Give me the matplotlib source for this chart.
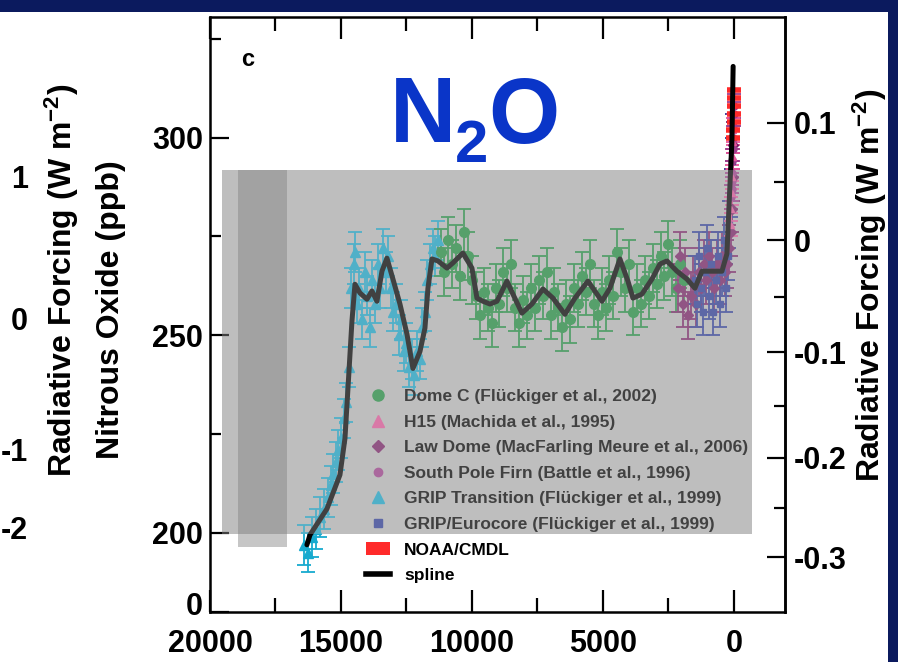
import numpy as np
import matplotlib
matplotlib.use('Agg')
import matplotlib.pyplot as plt
import matplotlib.transforms as mtransforms
from matplotlib.lines import Line2D
from matplotlib.patches import Rectangle, Patch

plt.rcParams['font.family'] = ['Liberation Sans', 'DejaVu Sans']
plt.rcParams['font.weight'] = 'bold'
plt.rcParams['mathtext.fontset'] = 'custom'
plt.rcParams['mathtext.rm'] = 'Liberation Sans:bold'
plt.rcParams['mathtext.bf'] = 'Liberation Sans:bold'
plt.rcParams['mathtext.default'] = 'rm'

# ---- data (years before present, N2O in ppb) ----
grip_tr_years = [16400, 16250, 16100, 15950, 15800, 15650, 15500, 15400, 15300, 15200,
                 15100, 15000, 14900, 14800, 14700, 14600, 14500, 14450, 14400, 14300,
                 14200, 14100, 14000, 13900, 13800, 13700, 13600, 13500, 13400, 13300,
                 13200, 13100, 13000, 12900, 12800, 12700, 12600, 12500, 12400, 12300,
                 12200, 12100, 12000, 11900, 11800, 11700, 11600, 11500, 11400, 11300]
grip_tr_ppb = [197, 195, 199, 201, 204, 206, 209, 212, 215, 218,
               221, 224, 229, 233, 242, 262, 268, 271, 258, 262,
               254, 266, 260, 252, 264, 258, 268, 262, 272, 266,
               270, 262, 256, 258, 250, 254, 246, 248, 242, 244,
               240, 246, 244, 252, 256, 264, 268, 272, 270, 274]

dome_c_years = [11200, 11050, 10900, 10750, 10600, 10450, 10300, 10150, 10000, 9850,
                9700, 9550, 9400, 9250, 9100, 8950, 8800, 8650, 8500, 8350,
                8200, 8050, 7900, 7750, 7600, 7450, 7300, 7150, 7000, 6850,
                6700, 6550, 6400, 6250, 6100, 5950, 5800, 5650, 5500, 5350,
                5200, 5050, 4900, 4750, 4600, 4450, 4300, 4150, 4000, 3850,
                3700, 3550, 3400, 3250, 3100, 2950, 2800, 2650, 2500, 2350,
                2200, 2050, 1900]
dome_c_ppb = [271, 266, 274, 268, 272, 265, 276, 270, 264, 260,
              255, 261, 257, 253, 262, 258, 266, 262, 268, 257,
              253, 259, 255, 262, 257, 264, 260, 266, 255, 261,
              257, 252, 258, 254, 262, 258, 265, 261, 268, 258,
              255, 261, 257, 264, 260, 271, 266, 262, 268, 256,
              262, 258, 264, 260, 267, 263, 270, 265, 273, 266,
              262, 268, 264]

law_dome_years = [2150, 2050, 1950, 1850, 1750, 1650, 1550, 1450, 1350, 1250,
                  1150, 1050, 950, 850, 750, 650, 550, 450, 350, 250,
                  180, 120, 80, 50, 30]
law_dome_ppb = [262, 270, 258, 266, 255, 260, 264, 258, 266, 262,
                268, 264, 270, 266, 262, 268, 264, 270, 266, 268,
                272, 276, 282, 290, 298]

eurocore_years = [1500, 1420, 1340, 1260, 1180, 1100, 1020, 940, 860, 780,
                  700, 620, 540, 460, 380, 300, 240, 180, 130, 90, 60]
eurocore_ppb = [264, 258, 270, 262, 256, 266, 272, 260, 268, 256,
                264, 270, 258, 266, 274, 262, 270, 278, 286, 294, 300]

south_pole_years = [95, 85, 75, 65, 55, 45, 35, 25, 15, 10]
south_pole_ppb = [285, 287, 289, 291, 294, 297, 300, 303, 306, 308]

h15_years = [120, 100, 80, 60, 40, 30, 20]
h15_ppb = [278, 282, 286, 290, 295, 299, 302]

noaa_years = [20, 16, 12, 8, 4, 0, -4]
noaa_ppb = [300, 302, 304, 306, 308, 310, 312]

spline_years = [16300, 16184, 15535, 15039, 14848, 14734, 14581, 14466, 14276, 14008,
                13818, 13627, 13436, 13245, 13016, 12749, 12482, 12253, 11985, 11795,
                11680, 11527, 11298, 10955, 10726, 10344, 10001, 9810, 9581, 9313,
                9046, 8665, 8436, 8092, 7710, 7290, 6909, 6451, 6069, 5573,
                5038, 4733, 4351, 4046, 3855, 3512, 3130, 2825, 2557, 2176,
                1794, 1489, 1221, 916, 458, 267, 191, 76, 50, 30]
spline_ppb = [197.0, 199.5, 206.1, 214.7, 223.9, 236.5, 253.6, 262.9, 260.7, 259.1,
              261.2, 258.6, 266.2, 269.5, 264.2, 257.9, 250.3, 241.6, 245.9, 251.8,
              261.9, 269.3, 268.8, 267.0, 268.3, 270.8, 267.0, 259.4, 258.6, 257.9,
              258.6, 263.7, 260.4, 255.6, 257.9, 261.7, 259.4, 255.3, 259.4, 263.7,
              258.6, 261.9, 269.3, 263.7, 259.4, 260.4, 264.2, 268.0, 268.8, 266.2,
              264.2, 261.9, 266.2, 266.2, 266.2, 270.6, 282.2, 299.2, 310.0, 318.0]

band_years = (17060, 18930)
band_ppb_low = 196.5

x_ticks = [20000, 15000, 10000, 5000, 0]
y_ticks = [180, 200, 250, 300]
y_labels = ['0', '200', '250', '300']
rf_ticks = [-0.3, -0.2, -0.1, 0.0, 0.1]
rf_labels = ['-0.3', '-0.2', '-0.1', '0', '0.1']
left_rf_labels = ['1', '0', '-1', '-2']

legend_labels = ['Dome C (Flückiger et al., 2002)', 'H15 (Machida et al., 1995)',
                 'Law Dome (MacFarling Meure et al., 2006)',
                 'South Pole Firn (Battle et al., 1996)',
                 'GRIP Transition (Flückiger et al., 1999)',
                 'GRIP/Eurocore (Flückiger et al., 1999)', 'NOAA/CMDL', 'spline']

# colours
navy = '#0b1a5e'
green = '#1f9140'
pink = '#e8559c'
purple = '#7a1e66'
violet = '#a03c8c'
cyan = '#17aacf'
blue = '#2a3a9a'
red = '#ff2a2a'

W, H = 898, 662


def fx(px):
    return px / W


def fy(py):
    return 1 - py / H


def n2o_to_rf(n):
    return 0.114 * (np.sqrt(np.clip(n, 1, None)) - np.sqrt(274.0))


def rf_to_n2o(rf):
    return (np.asarray(rf) / 0.114 + np.sqrt(274.0)) ** 2


fig = plt.figure(figsize=(W / 100, H / 100), dpi=100)
fig.patch.set_facecolor('white')
ax = fig.add_axes([fx(210), fy(612), fx(785) - fx(210), fy(17) - fy(612)])
ax.set_facecolor('none')

# gray panel underneath the data
rect = dict(xy=(fx(222), fy(534)), width=fx(752) - fx(222), height=fy(170) - fy(534))
ax.add_patch(Rectangle(transform=fig.transFigure, facecolor='#bfbfbf', edgecolor='none',
                       zorder=0.5, clip_on=False, **rect))
blend = mtransforms.blended_transform_factory(ax.transData, fig.transFigure)
ax.fill_between(band_years, band_ppb_low, 200, color='#c6c6c6', lw=0, zorder=0.6)
ax.add_patch(Rectangle((band_years[0], fy(534)), band_years[1] - band_years[0],
                       fy(170) - fy(534), transform=blend, facecolor='#949494',
                       edgecolor='none', zorder=0.7, clip_on=False))

eb = dict(ls='none', capsize=5, elinewidth=1.3, capthick=1.3, zorder=2)
ax.errorbar(grip_tr_years, grip_tr_ppb, yerr=5, fmt='^', ms=7, color=cyan, **eb)
ax.errorbar(dome_c_years, dome_c_ppb, yerr=6, fmt='o', ms=7, color=green, **eb)
ax.errorbar(law_dome_years, law_dome_ppb, yerr=6, fmt='D', ms=5, color=purple, **eb)
ax.errorbar(eurocore_years, eurocore_ppb, yerr=6, fmt='s', ms=5, color=blue, **eb)
ax.errorbar(south_pole_years, south_pole_ppb, yerr=3, fmt='o', ms=5, color=violet, **eb)
ax.errorbar(h15_years, h15_ppb, yerr=3, fmt='^', ms=5, color=pink, **eb)
ax.plot(noaa_years, noaa_ppb, ls='none', marker='_', ms=10, mew=4, color=red, zorder=3)
ax.plot(spline_years, spline_ppb, color='black', lw=3.6, zorder=4,
        solid_joinstyle='round', solid_capstyle='round')

ax.set_xlim(20000, -1950)
ax.set_ylim(180, 330.5)
ax.set_xticks(x_ticks, [str(t) for t in x_ticks])
ax.set_xticks([17500, 12500, 7500, 2500], minor=True)
ax.set_yticks(y_ticks, y_labels)
ax.set_yticks([225, 275, 325], minor=True)
ax.tick_params(axis='x', which='major', direction='in', top=True, length=16, width=1.6,
               labelsize=22, pad=12)
ax.tick_params(axis='x', which='minor', direction='in', top=True, length=10, width=1.6)
ax.tick_params(axis='y', which='major', direction='in', right=False, length=14, width=1.6,
               labelsize=22, pad=5)
ax.tick_params(axis='y', which='minor', direction='in', right=False, length=8, width=1.6)
for s in ax.spines.values():
    s.set_linewidth(1.8)

# the broken-axis "0" sits a little above the corner
zero_lab = ax.get_yticklabels()[0]
zero_lab.set_transform(zero_lab.get_transform()
                       + mtransforms.ScaledTranslation(0, 6 / 72, fig.dpi_scale_trans))

sec = ax.secondary_yaxis('right', functions=(n2o_to_rf, rf_to_n2o))
sec.set_yticks(rf_ticks, rf_labels)
sec.set_yticks([-0.25, -0.15, -0.05, 0.05], minor=True)
sec.tick_params(which='major', direction='in', length=13, width=1.6, labelsize=22, pad=6)
sec.tick_params(which='minor', direction='in', length=8, width=1.6)
sec.spines['right'].set_linewidth(1.8)

handles = [Line2D([], [], ls='none', marker='o', ms=8, color=green),
           Line2D([], [], ls='none', marker='^', ms=8, color=pink),
           Line2D([], [], ls='none', marker='D', ms=6, color=purple),
           Line2D([], [], ls='none', marker='o', ms=6, color=violet),
           Line2D([], [], ls='none', marker='^', ms=8, color=cyan),
           Line2D([], [], ls='none', marker='s', ms=6, color=blue),
           Patch(facecolor=red, edgecolor='none'),
           Line2D([], [], color='black', lw=4)]
ax.legend(handles, legend_labels, loc='upper left', bbox_to_anchor=(fx(366), fy(389)),
          bbox_transform=fig.transFigure, frameon=False, prop={'weight': 'bold', 'size': 12.5},
          handlelength=1.4, handleheight=0.7, handletextpad=0.8, labelspacing=0.6,
          borderpad=0, borderaxespad=0)

# veil over the gray panel
fig.add_artist(Rectangle(transform=fig.transFigure, facecolor='#bdbdbd', edgecolor='none',
                         alpha=0.35, zorder=10, **rect))

# texts
fig.text(fx(111), fy(310), 'Nitrous Oxide (ppb)', rotation=90, ha='center', va='center',
         fontsize=23)
fig.text(fx(870), fy(285), 'Radiative Forcing (W m$^{-2}$)', rotation=90, ha='center',
         va='center', fontsize=23)
fig.text(fx(62), fy(280), 'Radiative Forcing (W m$^{-2}$)', rotation=90, ha='center',
         va='center', fontsize=23)
for lab, py in zip(left_rf_labels, [180, 322, 453, 531]):
    fig.text(fx(28), fy(py), lab, ha='right', va='center', fontsize=22)
fig.text(fx(248), fy(60), 'c', ha='center', va='center', fontsize=17)

fig.text(fx(390), fy(142), 'N', color='#0a35c8', fontsize=66, ha='left', va='baseline')
fig.text(fx(455), fy(162), '2', color='#0a35c8', fontsize=43, ha='left', va='baseline')
fig.text(fx(488), fy(143), 'O', color='#0a35c8', fontsize=66, ha='left', va='baseline')

# slide frame
fig.add_artist(Rectangle((0, fy(12)), 1, fy(0) - fy(12), transform=fig.transFigure,
                         facecolor=navy, edgecolor='none', zorder=20))
fig.add_artist(Rectangle((fx(888), 0), 1 - fx(888), 1, transform=fig.transFigure,
                         facecolor=navy, edgecolor='none', zorder=20))

fig.savefig('out.png', dpi=100)
